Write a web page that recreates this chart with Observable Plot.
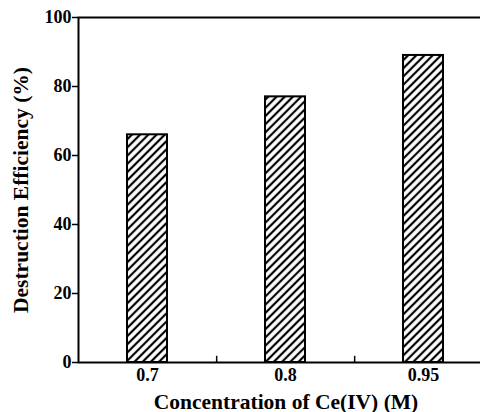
<!DOCTYPE html>
<html>
<head>
<meta charset="utf-8">
<script src="https://cdn.jsdelivr.net/npm/d3@7"></script>
<script src="https://cdn.jsdelivr.net/npm/@observablehq/plot@0.6"></script>
<style>
  html, body { margin: 0; padding: 0; background: #fff; }
  #chart svg { display: block; }
  #chart svg text { font-family: 'Liberation Serif', 'Times New Roman', serif !important; font-weight: bold !important; font-size: 18px !important; fill: black; }
  #chart svg [aria-label="x-axis label"] text,
  #chart svg [aria-label="y-axis label"] text { font-size: 21.5px !important; }
</style>
</head>
<body>
<div id="chart"></div>
<script>
const categories = ["0.7", "0.8", "0.95"];
const efficiency = [66, 77, 89];
const yTicks = [0, 20, 40, 60, 80, 100];
const xTitle = "Concentration of Ce(IV) (M)";
const yTitle = "Destruction Efficiency (%)";

const data = categories.map((c, i) => ({ c, v: efficiency[i] }));
const width = 480, height = 412;
const marginLeft = 78, marginRight = -13;
const step = (width - marginRight - marginLeft) / categories.length;

const svg = Plot.plot({
  width, height,
  marginLeft, marginRight, marginTop: 17, marginBottom: 50,
  style: { fontFamily: "'Liberation Serif', 'Times New Roman', serif", fontSize: "18px", fontWeight: "bold", color: "black", background: "white" },
  x: { domain: categories, paddingInner: 0.709, paddingOuter: 0.355 },
  y: { domain: [0, 100] },
  marks: [
    Plot.barY(data, { x: "c", y: "v", fill: "url(#hatch)", stroke: "black", strokeWidth: 2 }),
    Plot.ruleX(categories.slice(0, -1), { x: d => d, y1: 0, y2: 1.8, dx: step / 2, stroke: "black", strokeWidth: 1.5 }),
    Plot.frame({ stroke: "black", strokeWidth: 2 }),
    Plot.axisY({ ticks: yTicks, tickSize: 6, tickPadding: 1, strokeWidth: 1.5, label: yTitle, labelAnchor: "center", labelArrow: "none", labelOffset: 66 }),
    Plot.axisX({ tickSize: 0, tickPadding: 6, label: xTitle, labelAnchor: "center", labelArrow: "none", labelOffset: 46 })
  ]
});

const ns = "http://www.w3.org/2000/svg";
const defs = document.createElementNS(ns, "defs");
defs.innerHTML = `<pattern id="hatch" patternUnits="userSpaceOnUse" width="5.8" height="5.8" patternTransform="rotate(45)">
  <rect width="5.8" height="5.8" fill="white"/>
  <line x1="2.9" y1="-1" x2="2.9" y2="7" stroke="black" stroke-width="2.2"/>
</pattern>`;
svg.insertBefore(defs, svg.firstChild);
document.getElementById("chart").appendChild(svg);
</script>
</body>
</html>
